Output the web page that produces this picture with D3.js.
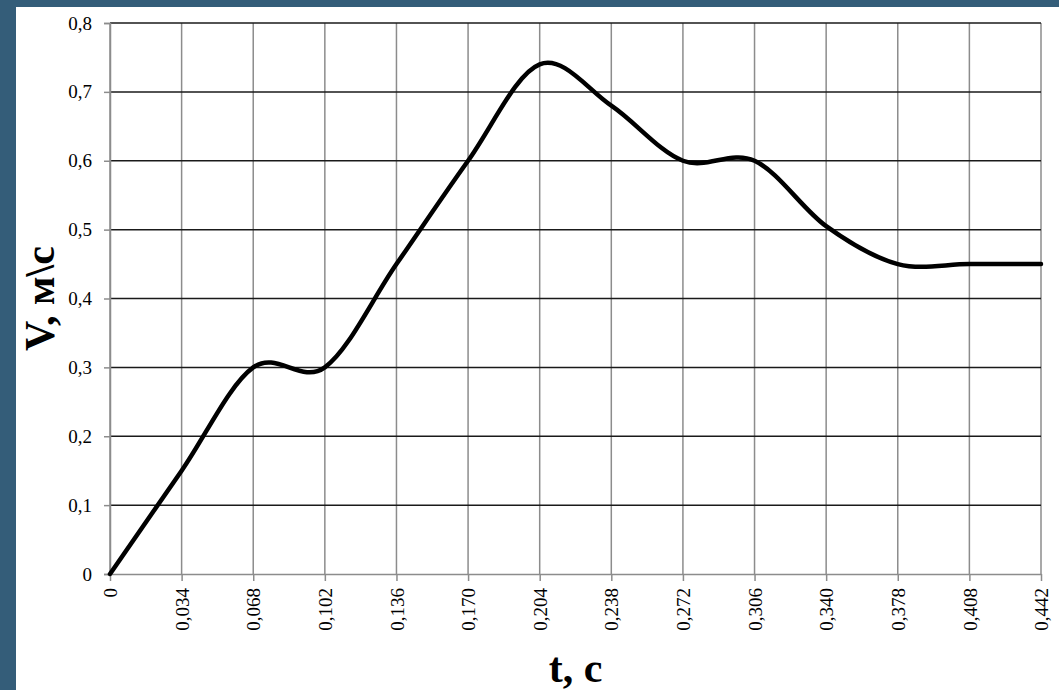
<!DOCTYPE html>
<html>
<head>
<meta charset="utf-8">
<script src="https://cdn.jsdelivr.net/npm/d3@7"></script>
<style>
    html, body { margin: 0; padding: 0; background: #345d79; }
    #chart { position: absolute; left: 16px; top: 7px; width: 1043px; height: 683px; background: #fff; }
    #chart svg { overflow: visible; }
    text { font-family: "Liberation Serif", "Times New Roman", serif; }
</style>
</head>
<body>
<div id="chart"></div>
<script>
// Chart data
const timeLabels = ["0", "0,034", "0,068", "0,102", "0,136", "0,170", "0,204", "0,238",
                    "0,272", "0,306", "0,340", "0,378", "0,408", "0,442"];
const speedValues = [0, 0.15, 0.30, 0.30, 0.45, 0.60, 0.74, 0.68,
                     0.60, 0.60, 0.505, 0.45, 0.45, 0.45];
const yTicks = [0, 0.1, 0.2, 0.3, 0.4, 0.5, 0.6, 0.7, 0.8];

const W = 1043, H = 683;
const margin = {top: 16, right: 18, bottom: 116, left: 94};
const width = W - margin.left - margin.right,
      height = H - margin.top - margin.bottom;

const svg = d3.select("#chart").append("svg")
    .attr("width", W)
    .attr("height", H);

const g = svg.append("g")
    .attr("transform", `translate(${margin.left},${margin.top})`);

const x = d3.scalePoint()
    .domain(timeLabels)
    .range([0, width]);

const y = d3.scaleLinear()
    .domain([0, 0.8])
    .range([height, 0]);

const fmt = d => d === 0 ? "0" : d3.format(".1f")(d).replace(".", ",");

// vertical gridlines (gray)
g.append("g")
    .selectAll("line")
    .data(timeLabels)
    .enter().append("line")
    .attr("x1", d => x(d)).attr("x2", d => x(d))
    .attr("y1", 0).attr("y2", height)
    .attr("stroke", "#8c8c8c")
    .attr("stroke-width", 1.5);

// horizontal gridlines (dark)
g.append("g")
    .selectAll("line")
    .data(yTicks.filter(d => d > 0))
    .enter().append("line")
    .attr("x1", 0).attr("x2", width)
    .attr("y1", d => y(d)).attr("y2", d => y(d))
    .attr("stroke", "#1a1a1a")
    .attr("stroke-width", 1.5);

// y axis
const yAxis = g.append("g")
    .call(d3.axisLeft(y).tickValues(yTicks).tickFormat(fmt).tickSize(6).tickPadding(12));
yAxis.select(".domain").attr("stroke", "#8c8c8c").attr("stroke-width", 1.5);
yAxis.selectAll(".tick line").attr("stroke", "#8c8c8c").attr("stroke-width", 1.5);
yAxis.selectAll("text")
    .style("font-family", "'Liberation Serif', serif")
    .style("font-size", "19px")
    .attr("fill", "#000");

// x axis
const xAxis = g.append("g")
    .attr("transform", `translate(0,${height})`)
    .call(d3.axisBottom(x).tickSize(7).tickSizeOuter(0));
xAxis.select(".domain").attr("stroke", "#8c8c8c").attr("stroke-width", 1.5);
xAxis.selectAll(".tick line").attr("stroke", "#8c8c8c").attr("stroke-width", 1.5);
xAxis.selectAll("text")
    .style("font-family", "'Liberation Serif', serif")
    .style("font-size", "19px")
    .attr("fill", "#000")
    .attr("transform", "rotate(-90)")
    .attr("x", -14)
    .attr("y", 0)
    .attr("dy", "0.35em")
    .style("text-anchor", "end");

// speed line
const line = d3.line()
    .x((d, i) => x(timeLabels[i]))
    .y(d => y(d))
    .curve(d3.curveCardinal.tension(0));

g.append("path")
    .datum(speedValues)
    .attr("fill", "none")
    .attr("stroke", "#000")
    .attr("stroke-width", 4.5)
    .attr("stroke-linejoin", "round")
    .attr("stroke-linecap", "round")
    .attr("d", line);

// axis titles
svg.append("text")
    .attr("x", margin.left + width / 2)
    .attr("y", 675)
    .attr("text-anchor", "middle")
    .style("font-size", "42px")
    .style("font-weight", "bold")
    .text("t, c");

svg.append("text")
    .attr("transform", `translate(38,${margin.top + height / 2}) rotate(-90)`)
    .attr("text-anchor", "middle")
    .style("font-size", "42px")
    .style("font-weight", "bold")
    .text("V, м\\с");
</script>
</body>
</html>
